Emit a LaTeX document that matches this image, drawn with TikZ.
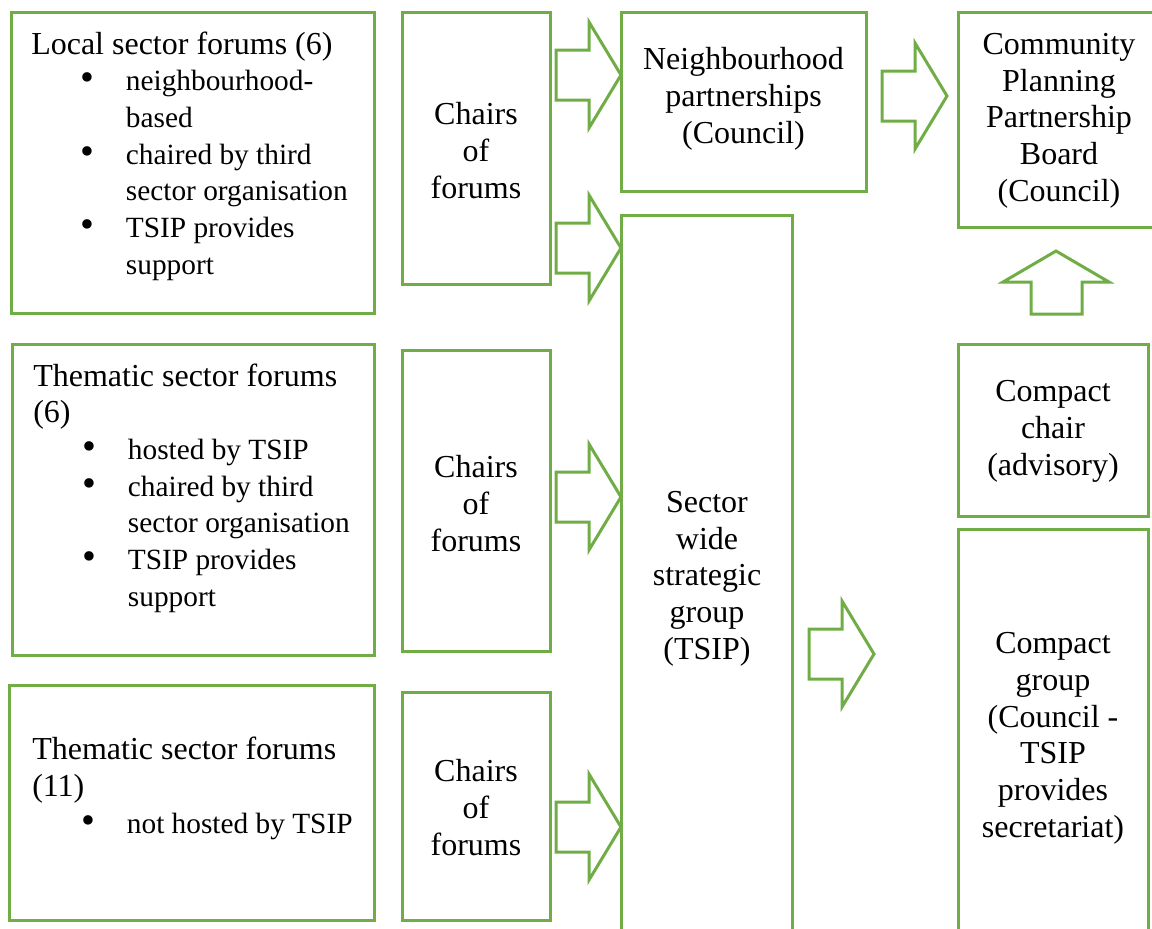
\documentclass[tikz,border=0pt]{standalone}
\usepackage{fontspec}
\setmainfont{Liberation Serif}
\usepackage{tikz}
\definecolor{boxgreen}{RGB}{112,173,71}
\newcommand{\bul}{\fontsize{22}{27.5}\selectfont\hspace*{37pt}\makebox[34pt][l]{\scalebox{1.35}{\textbullet}}}
\newcommand{\cont}{\fontsize{22}{27.5}\selectfont\hspace*{71pt}}

\begin{document}
\begin{tikzpicture}
        [x=0.75pt, y=-0.75pt,
        gbox/.style 2 args={rectangle, draw=boxgreen, line width=2.25pt, inner sep=0pt,
                minimum width=#1*0.75pt, minimum height=#2*0.75pt},
        ctxt/.style={inner sep=0pt, font=\fontsize{24}{27.5}\selectfont, align=center, anchor=base},
        ltxt/.style={inner sep=0pt, font=\fontsize{24}{27.5}\selectfont, align=left, anchor=base west},
        barrow/.style={draw=boxgreen, line width=2.25pt, line join=miter}]

        \useasboundingbox (0,0) rectangle (1152,928);

        % forums on the left (text placed by its last baseline)
        \node[gbox={363}{301}] (localF)  at (192.5,162.5) {};
        \node[gbox={362}{311}] (themF6)  at (193,499.5) {};
        \node[gbox={365}{235}] (themF11) at (191.5,802.5) {};

        \node[ltxt] (localF-t) at (31,274) {Local sector forums (6)\\
                \bul neighbourhood-\\ \cont based\\
                \bul chaired by third\\ \cont sector organisation\\
                \bul TSIP provides\\ \cont support};
        \node[ltxt] (themF6-t) at (33,606) {Thematic sector forums\\ (6)\\
                \bul hosted by TSIP\\
                \bul chaired by third\\ \cont sector organisation\\
                \bul TSIP provides\\ \cont support};
        \node[ltxt] (themF11-t) at (32,833) {Thematic sector forums\\ (11)\\
                \bul not hosted by TSIP};

        % chairs
        \node[gbox={148}{272}] (chairsA) at (476,148) {};
        \node[gbox={148}{301}] (chairsB) at (476,500.5) {};
        \node[gbox={148}{228}] (chairsC) at (476,806) {};
        \node[ctxt] (chairsA-t) at (476,198) {Chairs\\ of\\ forums};
        \node[ctxt] (chairsB-t) at (476,551) {Chairs\\ of\\ forums};
        \node[ctxt] (chairsC-t) at (476,855) {Chairs\\ of\\ forums};

        % middle column
        \node[gbox={245}{179}] (nbhd)   at (743.5,101.5) {};
        \node[gbox={171}{720}] (sector) at (707,575) {};
        \node[ctxt] (nbhd-t)   at (743.5,143) {Neighbourhood\\ partnerships\\ (Council)};
        \node[ctxt] (sector-t) at (707,659) {Sector\\ wide\\ strategic\\ group\\ (TSIP)};

        % right column
        \node[gbox={202}{215}] (cppb)   at (1059,119.5) {};
        \node[gbox={190}{172}] (cchair) at (1053,430) {};
        \node[gbox={190}{406}] (cgroup) at (1053,732) {};
        \node[ctxt] (cppb-t)   at (1059,201) {Community\\ Planning\\ Partnership\\ Board\\ (Council)};
        \node[ctxt] (cchair-t) at (1053,475) {Compact\\ chair\\ (advisory)};
        \node[ctxt] (cgroup-t) at (1053,837) {Compact\\ group\\ (Council -\\ TSIP\\ provides\\ secretariat)};

        % block arrows
        \foreach \x/\y in {556/75, 556/248, 556/497, 556/827, 882/96, 809/654}
            \draw[barrow] (\x,\y) ++(0,-25) -- ++(33,0) -- ++(0,-28) -- ++(32,53)
                -- ++(-32,53) -- ++(0,-28) -- ++(-33,0) -- cycle;
        \draw[barrow] (1031,314) -- (1031,282) -- (1003,282) -- (1056,251)
                -- (1109,282) -- (1082,282) -- (1082,314) -- cycle;
\end{tikzpicture}
\end{document}
